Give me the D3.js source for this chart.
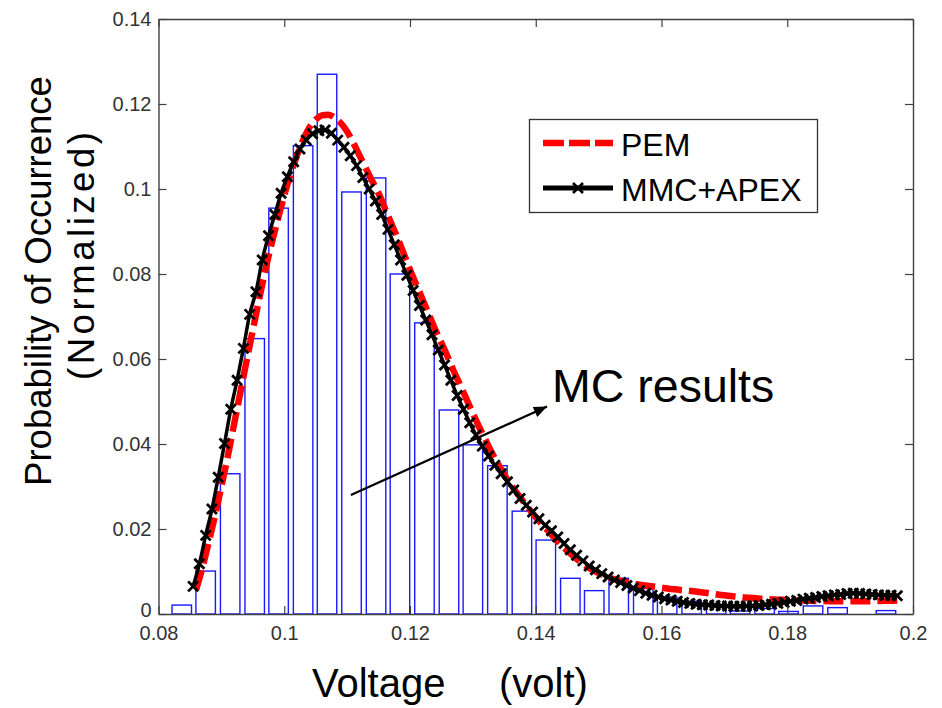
<!DOCTYPE html>
<html>
<head>
<meta charset="utf-8">
<script src="https://cdn.jsdelivr.net/npm/d3@7"></script>
<style>
  body { margin: 0; background: #fff; }
  text { font-family: "Liberation Sans", Arial, sans-serif; }
</style>
</head>
<body>
<div id="wrapper"></div>
<script>
// histogram of MC results (bin centre, normalized count)
const binCenters = [0.0837, 0.0875, 0.0914, 0.0953, 0.0991, 0.1030, 0.1068, 0.1107, 0.1146, 0.1184,
  0.1223, 0.1262, 0.1300, 0.1339, 0.1378, 0.1416, 0.1455, 0.1493, 0.1532, 0.1571,
  0.1609, 0.1648, 0.1687, 0.1725, 0.1764, 0.1802, 0.1841, 0.1880, 0.1918, 0.1957];
const binHeights = [0.0021, 0.0101, 0.0330, 0.0648, 0.0955, 0.1102, 0.1270, 0.0993, 0.1026, 0.0800,
  0.0685, 0.0480, 0.0398, 0.0349, 0.0242, 0.0174, 0.0084, 0.0055, 0.0084, 0.0060,
  0.0040, 0.0030, 0.0020, 0.0007, 0.0013, 0.0006, 0.0019, 0.0015, 0.0000, 0.0008];
const binWidth = 0.0031;

// PEM curve
const pemX = [0.0860, 0.0870, 0.0880, 0.0890, 0.0900, 0.0910, 0.0920, 0.0930, 0.0940, 0.0950,
  0.0960, 0.0970, 0.0980, 0.0990, 0.1000, 0.1010, 0.1020, 0.1030, 0.1040, 0.1050,
  0.1060, 0.1070, 0.1080, 0.1090, 0.1100, 0.1110, 0.1120, 0.1130, 0.1140, 0.1150,
  0.1160, 0.1170, 0.1180, 0.1190, 0.1200, 0.1210, 0.1220, 0.1230, 0.1240, 0.1250,
  0.1260, 0.1270, 0.1280, 0.1290, 0.1300, 0.1310, 0.1320, 0.1330, 0.1340, 0.1350,
  0.1360, 0.1370, 0.1380, 0.1390, 0.1400, 0.1420, 0.1440, 0.1460, 0.1480, 0.1500,
  0.1520, 0.1540, 0.1560, 0.1580, 0.1600, 0.1620, 0.1640, 0.1660, 0.1680, 0.1700,
  0.1720, 0.1740, 0.1760, 0.1780, 0.1800, 0.1840, 0.1880, 0.1920, 0.1960, 0.1975];
const pemY = [0.0058, 0.0110, 0.0170, 0.0232, 0.0300, 0.0370, 0.0445, 0.0520, 0.0595, 0.0668,
  0.0740, 0.0810, 0.0872, 0.0930, 0.0985, 0.1035, 0.1078, 0.1115, 0.1145, 0.1163,
  0.1173, 0.1175, 0.1168, 0.1155, 0.1135, 0.1108, 0.1078, 0.1048, 0.1018, 0.0990,
  0.0955, 0.0920, 0.0885, 0.0848, 0.0810, 0.0775, 0.0740, 0.0705, 0.0670, 0.0638,
  0.0605, 0.0570, 0.0538, 0.0505, 0.0472, 0.0440, 0.0410, 0.0380, 0.0353, 0.0328,
  0.0305, 0.0285, 0.0265, 0.0246, 0.0228, 0.0195, 0.0163, 0.0136, 0.0113, 0.0096,
  0.0084, 0.0076, 0.0070, 0.0066, 0.0062, 0.0058, 0.0055, 0.0052, 0.0048, 0.0044,
  0.0041, 0.0038, 0.0036, 0.0034, 0.0033, 0.0031, 0.0030, 0.0030, 0.0031, 0.0032];

// MMC+APEX curve
const mmcX = [0.0855, 0.0865, 0.0875, 0.0885, 0.0895, 0.0905, 0.0915, 0.0925, 0.0935, 0.0945,
  0.0955, 0.0965, 0.0975, 0.0985, 0.0995, 0.1005, 0.1015, 0.1025, 0.1035, 0.1045,
  0.1055, 0.1065, 0.1075, 0.1085, 0.1095, 0.1105, 0.1115, 0.1125, 0.1135, 0.1145,
  0.1155, 0.1165, 0.1175, 0.1185, 0.1195, 0.1205, 0.1215, 0.1225, 0.1235, 0.1245,
  0.1255, 0.1265, 0.1275, 0.1285, 0.1295, 0.1305, 0.1315, 0.1325, 0.1335, 0.1345,
  0.1355, 0.1365, 0.1375, 0.1385, 0.1395, 0.1405, 0.1415, 0.1425, 0.1435, 0.1445,
  0.1455, 0.1465, 0.1475, 0.1485, 0.1495, 0.1505, 0.1515, 0.1525, 0.1535, 0.1545,
  0.1555, 0.1565, 0.1575, 0.1585, 0.1595, 0.1605, 0.1615, 0.1625, 0.1635, 0.1645,
  0.1655, 0.1665, 0.1675, 0.1685, 0.1695, 0.1705, 0.1715, 0.1725, 0.1735, 0.1745,
  0.1755, 0.1765, 0.1775, 0.1785, 0.1795, 0.1805, 0.1815, 0.1825, 0.1835, 0.1845,
  0.1855, 0.1865, 0.1875, 0.1885, 0.1895, 0.1905, 0.1915, 0.1925, 0.1935, 0.1945,
  0.1955, 0.1965, 0.1975];
const mmcY = [0.0065, 0.0118, 0.0185, 0.0247, 0.0322, 0.0401, 0.0482, 0.0550, 0.0625, 0.0705,
  0.0758, 0.0833, 0.0890, 0.0940, 0.0990, 0.1029, 0.1064, 0.1094, 0.1115, 0.1130,
  0.1137, 0.1139, 0.1131, 0.1115, 0.1098, 0.1078, 0.1055, 0.1027, 0.1000, 0.0972,
  0.0940, 0.0905, 0.0869, 0.0833, 0.0797, 0.0761, 0.0726, 0.0692, 0.0657, 0.0621,
  0.0586, 0.0550, 0.0514, 0.0482, 0.0450, 0.0421, 0.0395, 0.0372, 0.0350, 0.0330,
  0.0311, 0.0292, 0.0272, 0.0256, 0.0240, 0.0224, 0.0209, 0.0196, 0.0181, 0.0166,
  0.0151, 0.0138, 0.0125, 0.0113, 0.0104, 0.0095, 0.0087, 0.0080, 0.0074, 0.0067,
  0.0061, 0.0055, 0.0049, 0.0044, 0.0040, 0.0036, 0.0033, 0.0030, 0.0027, 0.0025,
  0.0023, 0.0022, 0.0021, 0.0020, 0.0019, 0.0019, 0.0018, 0.0018, 0.0019, 0.0019,
  0.0020, 0.0022, 0.0023, 0.0025, 0.0027, 0.0030, 0.0032, 0.0035, 0.0037, 0.0039,
  0.0041, 0.0043, 0.0045, 0.0046, 0.0048, 0.0049, 0.0048, 0.0047, 0.0046, 0.0045,
  0.0044, 0.0044, 0.0043];

const xTicks = [0.08, 0.1, 0.12, 0.14, 0.16, 0.18, 0.2];
const yTicks = [0, 0.02, 0.04, 0.06, 0.08, 0.1, 0.12, 0.14];
const seriesNames = ["PEM", "MMC+APEX"];

// annotation arrow (data coords)
const arrowFrom = [0.1106, 0.0280];
const arrowTo = [0.1418, 0.0488];
const noteText = "MC results";

function drawChart() {
  const width = 942;
  let dimensions = {
    width: width,
    height: 708,
    margin: { top: 19, right: 29, bottom: 94, left: 158.5 },
  };
  dimensions.boundedWidth = dimensions.width - dimensions.margin.left - dimensions.margin.right;
  dimensions.boundedHeight = dimensions.height - dimensions.margin.top - dimensions.margin.bottom;

  const xScale = d3.scaleLinear().domain([0.08, 0.2]).range([0, dimensions.boundedWidth]);
  const yScale = d3.scaleLinear().domain([0, 0.14]).range([dimensions.boundedHeight, 0]);

  const wrapper = d3.select("#wrapper").append("svg")
    .attr("width", dimensions.width)
    .attr("height", dimensions.height);

  const defs = wrapper.append("defs");
  defs.append("marker")
    .attr("id", "arrowhead")
    .attr("viewBox", "0 0 12 10")
    .attr("refX", 12).attr("refY", 5)
    .attr("markerUnits", "userSpaceOnUse")
    .attr("markerWidth", 14).attr("markerHeight", 11)
    .attr("orient", "auto")
    .append("path").attr("d", "M0,0L12,5L0,10Z").attr("fill", "#000");

  const bounds = wrapper.append("g")
    .attr("transform", `translate(${dimensions.margin.left},${dimensions.margin.top})`);

  // histogram bars
  bounds.append("g").selectAll("rect")
    .data(binCenters)
    .join("rect")
    .attr("x", (d) => xScale(d - binWidth / 2))
    .attr("width", (d) => xScale(d + binWidth / 2) - xScale(d - binWidth / 2))
    .attr("y", (d, i) => yScale(binHeights[i]))
    .attr("height", (d, i) => yScale(0) - yScale(binHeights[i]))
    .attr("fill", "none")
    .attr("stroke", "#1a1aff")
    .attr("stroke-width", 1.4);

  // arrow + text
  bounds.append("line")
    .attr("x1", xScale(arrowFrom[0])).attr("y1", yScale(arrowFrom[1]))
    .attr("x2", xScale(arrowTo[0])).attr("y2", yScale(arrowTo[1]))
    .attr("stroke", "#000").attr("stroke-width", 2.2)
    .attr("marker-end", "url(#arrowhead)");
  bounds.append("text")
    .attr("x", xScale(arrowTo[0]) + 5)
    .attr("y", yScale(arrowTo[1]) - 5)
    .attr("font-size", 46.5)
    .attr("fill", "#000")
    .text(noteText);

  const pemData = pemX.map((x, i) => [x, pemY[i]]);
  const mmcData = mmcX.map((x, i) => [x, mmcY[i]]);
  const lineGen = d3.line()
    .x((d) => xScale(d[0]))
    .y((d) => yScale(d[1]))
    .curve(d3.curveMonotoneX);

  // PEM dashed
  bounds.append("path")
    .attr("d", lineGen(pemData))
    .attr("fill", "none")
    .attr("stroke", "#ff0000")
    .attr("stroke-width", 6.5)
    .attr("stroke-dasharray", "20,7");

  // MMC+APEX solid with x markers
  bounds.append("path")
    .attr("d", lineGen(mmcData))
    .attr("fill", "none")
    .attr("stroke", "#000")
    .attr("stroke-width", 3.5);

  const crossPath = "M-5,-5L5,5M-5,5L5,-5";
  bounds.append("g").selectAll("path")
    .data(mmcData)
    .join("path")
    .attr("transform", (d) => `translate(${xScale(d[0])},${yScale(d[1])})`)
    .attr("d", crossPath)
    .attr("stroke", "#000")
    .attr("stroke-width", 2.8)
    .attr("fill", "none");

  // axes (ticks pointing inward on all four sides)
  const axisColor = "#404040";
  const styleAxis = (g) => {
    g.select(".domain").attr("stroke", axisColor).attr("stroke-width", 1.4);
    g.selectAll(".tick line").attr("stroke", axisColor).attr("stroke-width", 1.2);
    g.selectAll(".tick text").attr("fill", "#333").attr("font-size", 20)
      .attr("font-family", '"Liberation Sans", Arial, sans-serif');
  };

  bounds.append("g")
    .attr("transform", `translate(0,${dimensions.boundedHeight})`)
    .call(d3.axisBottom(xScale).tickValues(xTicks).tickFormat(d3.format("~g"))
      .tickSizeInner(-8).tickSizeOuter(0).tickPadding(12))
    .call(styleAxis);
  bounds.append("g")
    .call(d3.axisTop(xScale).tickValues(xTicks).tickFormat("")
      .tickSizeInner(-8).tickSizeOuter(0))
    .call(styleAxis);
  bounds.append("g")
    .call(d3.axisLeft(yScale).tickValues(yTicks).tickFormat(d3.format("~g"))
      .tickSizeInner(-8).tickSizeOuter(0).tickPadding(7))
    .call(styleAxis)
    // the zero label sits a little above its tick, clear of the x labels
    .selectAll(".tick text").filter((d) => d === 0).attr("dy", "0.1em");
  bounds.append("g")
    .attr("transform", `translate(${dimensions.boundedWidth},0)`)
    .call(d3.axisRight(yScale).tickValues(yTicks).tickFormat("")
      .tickSizeInner(-8).tickSizeOuter(0))
    .call(styleAxis);

  // axis labels
  wrapper.append("text")
    .attr("x", 312).attr("y", 697)
    .attr("font-size", 40)
    .text("Voltage");
  wrapper.append("text")
    .attr("x", 499).attr("y", 697)
    .attr("font-size", 40)
    .text("(volt)");

  const yLabel = wrapper.append("g")
    .attr("transform", "rotate(-90)")
    .attr("text-anchor", "middle")
    .attr("font-size", 36.5);
  yLabel.append("text").attr("x", -281).attr("y", 51).text("Probability of Occurrence");
  yLabel.append("text").attr("x", -256).attr("y", 94)
    .attr("textLength", 248).attr("lengthAdjust", "spacing")
    .text("(Normalized)");

  // legend
  const legend = wrapper.append("g");
  legend.append("rect")
    .attr("x", 529.5).attr("y", 119.5)
    .attr("width", 288).attr("height", 93)
    .attr("fill", "#fff").attr("stroke", "#333").attr("stroke-width", 1.3);
  legend.append("line")
    .attr("x1", 543).attr("x2", 613).attr("y1", 143).attr("y2", 143)
    .attr("stroke", "#ff0000").attr("stroke-width", 6.5)
    .attr("stroke-dasharray", "21,5");
  legend.append("line")
    .attr("x1", 543).attr("x2", 613).attr("y1", 188).attr("y2", 188)
    .attr("stroke", "#000").attr("stroke-width", 5);
  legend.append("path")
    .attr("transform", "translate(578,188)")
    .attr("d", crossPath)
    .attr("stroke", "#000").attr("stroke-width", 2.6);
  legend.selectAll("text.leg")
    .data(seriesNames)
    .join("text")
    .attr("class", "leg")
    .attr("x", 621)
    .attr("y", (d, i) => 156 + i * 45)
    .attr("font-size", 32)
    .text((d) => d);
}
drawChart();
</script>
</body>
</html>
